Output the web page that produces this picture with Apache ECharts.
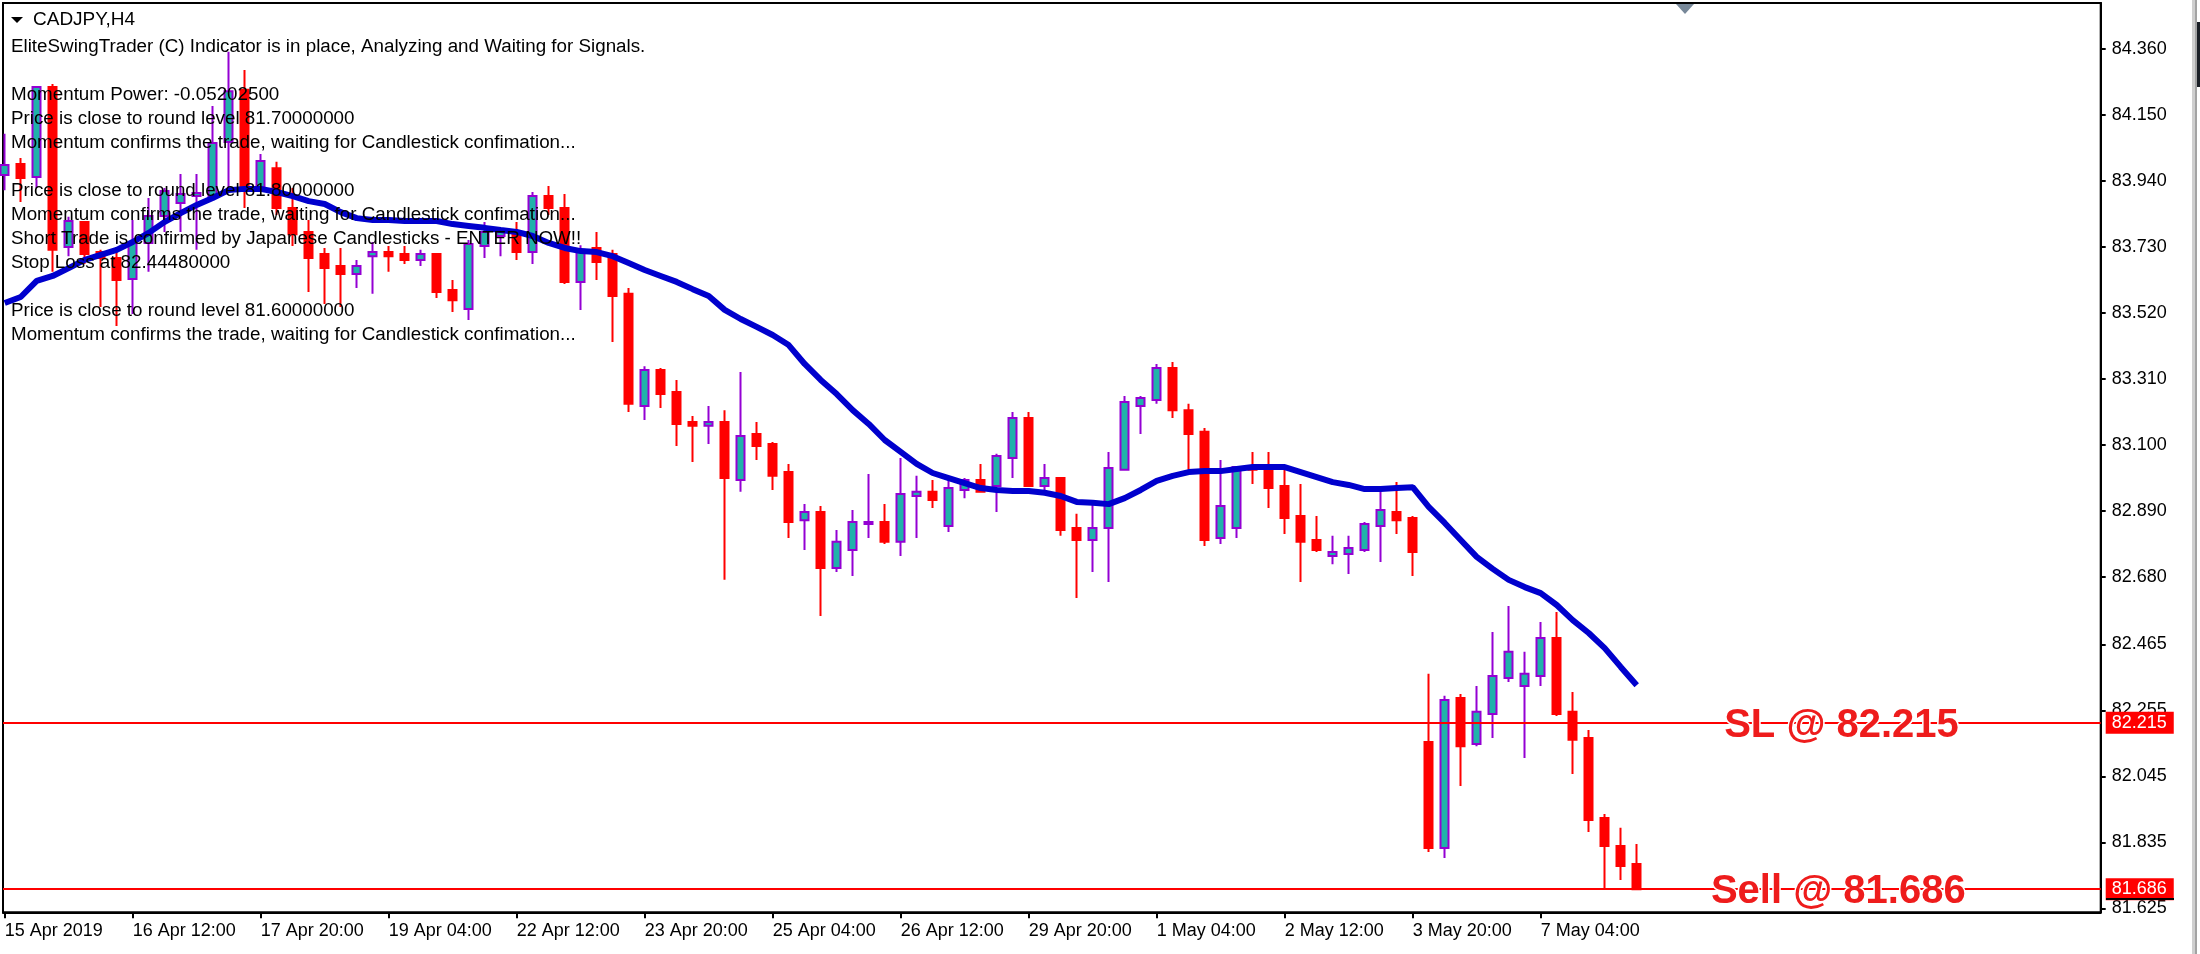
<!DOCTYPE html>
<html>
<head>
<meta charset="utf-8">
<title>CADJPY,H4</title>
<style>
  html, body { margin: 0; padding: 0; background: #fff; }
  #chart { width: 2200px; height: 954px; }
</style>
<script src="https://cdn.jsdelivr.net/npm/echarts@6/dist/echarts.min.js"></script>
</head>
<body>
<div id="chart"></div>
<script>
var opens = [
  83.958,83.993,83.952,84.238,83.729,83.809,83.713,83.694,83.627,83.742,
  83.828,83.869,83.891,83.888,84.063,84.229,83.920,83.980,83.853,83.777,
  83.707,83.669,83.643,83.700,83.713,83.707,83.688,83.707,83.592,83.532,
  83.732,83.764,83.770,83.713,83.891,83.853,83.618,83.726,83.707,83.580,
  83.223,83.338,83.268,83.172,83.160,83.172,82.988,83.134,83.102,83.013,
  82.860,82.886,82.708,82.765,82.848,82.854,82.791,82.937,82.950,82.841,
  82.956,82.988,82.969,83.058,83.185,82.969,82.994,82.835,82.797,82.835,
  83.020,83.223,83.242,83.344,83.210,83.141,82.803,82.835,83.032,83.026,
  82.969,82.873,82.797,82.746,82.752,82.765,82.841,82.886,82.867,82.154,
  81.817,82.294,82.148,82.243,82.358,82.332,82.364,82.485,82.250,82.167,
  81.912,81.823,81.766
]
var closes = [
  83.990,83.949,84.238,83.720,83.812,83.707,83.694,83.624,83.742,83.828,
  83.907,83.898,83.901,84.060,84.225,83.920,84.003,83.853,83.770,83.694,
  83.662,83.643,83.669,83.713,83.700,83.688,83.707,83.586,83.560,83.739,
  83.777,83.777,83.713,83.891,83.853,83.618,83.720,83.681,83.573,83.230,
  83.338,83.261,83.166,83.160,83.172,82.994,83.128,83.096,83.001,82.854,
  82.886,82.708,82.791,82.854,82.854,82.791,82.943,82.950,82.924,82.962,
  82.988,82.950,83.064,83.185,82.969,82.994,82.829,82.797,82.835,83.026,
  83.236,83.249,83.344,83.210,83.134,82.797,82.905,83.029,83.020,82.962,
  82.867,82.791,82.765,82.759,82.771,82.848,82.892,82.860,82.759,81.817,
  82.288,82.141,82.250,82.364,82.441,82.371,82.485,82.243,82.161,81.906,
  81.823,81.760,81.686
]
var lows = [
  83.910,83.872,83.917,83.650,83.700,83.675,83.538,83.478,83.516,83.650,
  83.777,83.777,83.720,83.879,83.920,83.853,83.910,83.831,83.732,83.586,
  83.548,83.538,83.599,83.580,83.650,83.675,83.669,83.567,83.522,83.497,
  83.694,83.700,83.688,83.675,83.831,83.611,83.529,83.624,83.427,83.204,
  83.179,83.217,83.096,83.045,83.102,82.670,82.950,83.051,82.956,82.803,
  82.765,82.555,82.695,82.682,82.803,82.784,82.746,82.803,82.899,82.822,
  82.930,82.947,82.886,82.994,82.969,82.950,82.810,82.612,82.695,82.663,
  83.020,83.134,83.230,83.185,83.020,82.778,82.784,82.803,82.975,82.899,
  82.816,82.663,82.759,82.720,82.689,82.759,82.727,82.816,82.682,81.804,
  81.785,82.014,82.141,82.167,82.345,82.103,82.332,82.237,82.052,81.868,
  81.686,81.715,81.686
]
var highs = [
  84.089,84.012,84.241,84.248,83.825,83.812,83.720,83.720,83.815,83.885,
  83.917,83.961,83.961,84.178,84.350,84.292,84.025,84.000,83.917,83.815,
  83.726,83.726,83.688,83.745,83.732,83.732,83.720,83.707,83.624,83.751,
  83.809,83.790,83.809,83.904,83.923,83.898,83.735,83.777,83.720,83.599,
  83.350,83.344,83.306,83.191,83.223,83.210,83.331,83.172,83.109,83.039,
  82.911,82.905,82.829,82.892,83.007,82.911,83.058,83.001,82.988,82.988,
  82.994,83.039,83.071,83.204,83.204,83.039,82.994,82.880,82.911,83.077,
  83.255,83.255,83.357,83.363,83.230,83.153,83.051,83.032,83.077,83.077,
  83.026,82.975,82.873,82.810,82.810,82.854,82.956,82.981,82.873,82.371,
  82.301,82.307,82.332,82.504,82.587,82.441,82.536,82.568,82.313,82.192,
  81.925,81.881,81.830
]
var swingLine = [
  83.551,83.570,83.621,83.637,83.662,83.688,83.704,83.720,83.745,83.774,
  83.809,83.837,83.863,83.885,83.910,83.914,83.914,83.904,83.891,83.875,
  83.866,83.840,83.821,83.815,83.815,83.812,83.812,83.812,83.802,83.796,
  83.790,83.783,83.777,83.764,83.742,83.726,83.716,83.713,83.700,83.678,
  83.656,83.637,83.618,83.595,83.573,83.529,83.500,83.475,83.449,83.417,
  83.357,83.306,83.261,83.210,83.166,83.115,83.077,83.039,83.010,82.994,
  82.978,82.962,82.956,82.953,82.953,82.947,82.937,82.918,82.915,82.911,
  82.930,82.956,82.985,83.001,83.013,83.016,83.016,83.023,83.029,83.029,
  83.029,83.013,82.997,82.981,82.972,82.959,82.959,82.962,82.965,82.902,
  82.851,82.797,82.743,82.705,82.670,82.647,82.628,82.590,82.542,82.501,
  82.453,82.393,82.335
]
var xTickLabels = [
  '15 Apr 2019','16 Apr 12:00','17 Apr 20:00','19 Apr 04:00','22 Apr 12:00','23 Apr 20:00','25 Apr 04:00',
  '26 Apr 12:00','29 Apr 20:00','1 May 04:00','2 May 12:00','3 May 20:00','7 May 04:00'
]
var yTicks = [84.360,84.150,83.940,83.730,83.520,83.310,83.100,82.890,82.680,82.465,82.255,82.045,81.835,81.625]
var slLevel = 82.215
var sellLevel = 81.686
var symbolTitle = 'CADJPY,H4'
var infoLines = [
  'EliteSwingTrader (C) Indicator is in place, Analyzing and Waiting for Signals.',
  '',
  'Momentum Power: -0.05202500',
  'Price is close to round level 81.70000000',
  'Momentum confirms the trade, waiting for Candlestick confimation...',
  '',
  'Price is close to round level 81.80000000',
  'Momentum confirms the trade, waiting for Candlestick confimation...',
  'Short Trade is confirmed by Japanese Candlesticks - ENTER NOW!!',
  'Stop Loss at 82.44480000',
  '',
  'Price is close to round level 81.60000000',
  'Momentum confirms the trade, waiting for Candlestick confimation...'
]

var FONT = '"Liberation Sans", Arial, sans-serif'
var candles = []
var linePoints = []
var xTicks = []
for (var i = 0; i < opens.length; i++) {
  candles.push([i, opens[i], closes[i], lows[i], highs[i]])
  linePoints.push([i, swingLine[i]])
}
for (var t = 0; t < xTickLabels.length; t++) {
  xTicks.push(t * 8)
}

// text block over the candles, same as the terminal draws it
var overlay = [
  { type: 'polygon', z: 100, shape: { points: [[11, 17], [23, 17], [17, 23]] }, style: { fill: '#000' } },
  { type: 'text', z: 100, x: 33, y: 10, style: { text: symbolTitle, font: '19px ' + FONT, fill: '#000' } },
  // chart shift marker on the top edge
  { type: 'polygon', z: 100, shape: { points: [[1676, 4], [1694, 4], [1685, 14]] }, style: { fill: '#778899' } },
  // black rule under the lower price tag
  { type: 'rect', z: 100, shape: { x: 2106, y: 898, width: 68, height: 2 }, style: { fill: '#000' } },
  // window scrollbar at the right edge
  { type: 'rect', shape: { x: 2192, y: 0, width: 3, height: 954 }, style: { fill: '#cfcfcf' } },
  { type: 'rect', shape: { x: 2195, y: 0, width: 2, height: 954 }, style: { fill: '#a3a3a3' } },
  { type: 'rect', shape: { x: 2197, y: 22, width: 3, height: 65 }, style: { fill: '#1a1f26' } }
]
for (var k = 0; k < infoLines.length; k++) {
  if (infoLines[k]) {
    overlay.push({
      type: 'text', z: 100, x: 11, y: 37 + 24 * k,
      style: { text: infoLines[k], font: '18.8px ' + FONT, fill: '#000' }
    })
  }
}

var priceTag = {
  show: true,
  position: 'end',
  distance: 5,
  color: '#fff',
  backgroundColor: '#ff0000',
  fontFamily: FONT,
  fontSize: 18,
  lineHeight: 18,
  padding: [2, 7, 2, 6],
  formatter: function (p) {
    return p.value.toFixed(3)
  }
}

function bigLabel(text) {
  return {
    show: true,
    position: 'inside',
    offset: [0, 3],
    formatter: text,
    color: '#ee1c1c',
    fontFamily: FONT,
    fontSize: 40,
    fontWeight: 'bold',
    textBorderColor: '#fff',
    textBorderWidth: 3
  }
}

var myChart = echarts.init(document.getElementById('chart'))
myChart.setOption({
  animation: false,
  backgroundColor: '#fff',
  grid: {
    show: true,
    left: 3,
    right: 99.3,
    top: 3,
    bottom: 41.7,
    borderColor: '#000',
    borderWidth: 2,
    backgroundColor: '#fff'
  },
  xAxis: {
    type: 'value',
    min: -0.106,
    max: 131,
    splitLine: { show: false },
    axisLine: { show: true, onZero: false, lineStyle: { color: '#000', width: 2 } },
    axisTick: { show: true, length: 6, customValues: xTicks, lineStyle: { color: '#000', width: 2 } },
    axisLabel: {
      show: true,
      customValues: xTicks,
      align: 'left',
      margin: 10,
      color: '#000',
      fontFamily: FONT,
      fontSize: 18,
      formatter: function (v) {
        return xTickLabels[v / 8]
      }
    }
  },
  yAxis: {
    type: 'value',
    position: 'right',
    min: 81.6123,
    max: 84.5054,
    splitLine: { show: false },
    axisLine: { show: true, onZero: false, lineStyle: { color: '#000', width: 2 } },
    axisTick: { show: true, length: 5, customValues: yTicks, lineStyle: { color: '#000', width: 2 } },
    axisLabel: {
      show: true,
      customValues: yTicks,
      margin: 11,
      color: '#000',
      fontFamily: FONT,
      fontSize: 18,
      formatter: function (v) {
        return v.toFixed(3)
      }
    }
  },
  graphic: overlay,
  series: [
    {
      type: 'candlestick',
      data: candles,
      encode: { x: 0, y: [1, 2, 3, 4] },
      barWidth: 8,
      z: 2,
      itemStyle: {
        color: '#20b2aa',
        color0: '#ff0000',
        borderColor: '#9400d3',
        borderColor0: '#ff0000',
        borderWidth: 2
      },
      markLine: {
        silent: true,
        symbol: 'none',
        animation: false,
        precision: 3,
        lineStyle: { color: '#ff0000', width: 2, type: 'solid' },
        label: priceTag,
        data: [{ yAxis: slLevel }, { yAxis: sellLevel }]
      }
    },
    {
      type: 'line',
      data: linePoints,
      showSymbol: false,
      silent: true,
      z: 3,
      lineStyle: { color: '#0000cd', width: 6 },
      markPoint: {
        silent: true,
        symbolSize: 0,
        animation: false,
        data: [
          { coord: [114.8, slLevel], label: bigLabel('SL @ ' + slLevel.toFixed(3)) },
          { coord: [114.6, sellLevel], label: bigLabel('Sell @ ' + sellLevel.toFixed(3)) }
        ]
      }
    }
  ]
})
</script>
</body>
</html>
